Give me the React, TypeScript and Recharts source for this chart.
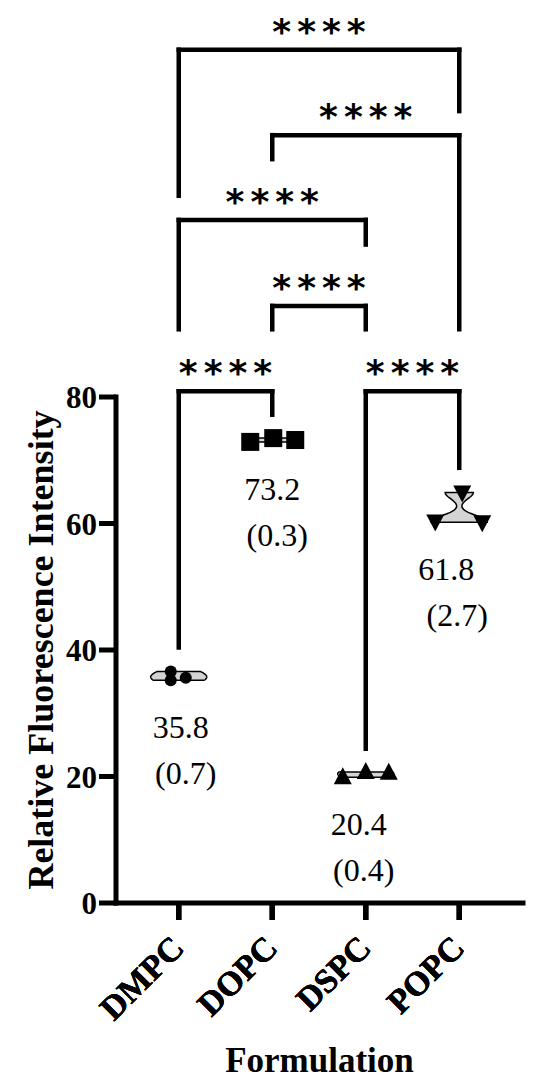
import React from "react";
import {
  ComposedChart,
  ReferenceArea,
  ReferenceLine,
  Scatter,
  XAxis,
  YAxis,
} from "recharts";

const CATEGORIES = ["DMPC", "DOPC", "DSPC", "POPC"];
const DMPC_VALUES = [36.6, 35.2, 35.6];
const DOPC_VALUES = [72.9, 73.5, 73.2];
const DSPC_VALUES = [19.9, 20.7, 20.6];
const POPC_VALUES = [64.9, 60.3, 60.2];
const MEANS = [35.8, 73.2, 20.4, 61.8];
const SDS = [0.7, 0.3, 0.4, 2.7];
const Y_TICKS = [0, 20, 40, 60, 80];

// multiple comparisons: group A, group B, bracket height, leg end A, leg end B
const COMPARISONS: [string, string, number, number, number][] = [
  ["DMPC", "DOPC", 80.9, 40.4, 77.2],
  ["DSPC", "POPC", 80.9, 24.4, 68.8],
  ["DOPC", "DSPC", 94.4, 90.7, 90.7],
  ["DMPC", "DSPC", 108.0, 90.7, 104.1],
  ["DOPC", "POPC", 121.4, 117.6, 90.7],
  ["DMPC", "POPC", 134.9, 111.8, 125.2],
];
const P_LABEL = "****";

const GROUPS = [DMPC_VALUES, DOPC_VALUES, DSPC_VALUES, POPC_VALUES];
const MARKERS = ["circle", "square", "triangle", "down"];

const INK = "#000";
const SERIF = "'Liberation Serif', 'Times New Roman', serif";

// horizontal spread of replicate points inside each violin (px)
const JITTER: Record<string, number[]> = {
  DMPC: [-8, -8, 7],
  DOPC: [-22, 1, 23],
  DSPC: [-23, 0, 23],
  POPC: [3, -24, 23],
};
const LABEL_DX: Record<string, [number, number]> = {
  DMPC: [2, 7],
  DOPC: [0, 5],
  DSPC: [-7, -2],
  POPC: [-13, -2],
};

function Marker(props: any) {
  const { cx, cy, payload, kind } = props;
  if (cx == null || cy == null) return null;
  const x = cx + JITTER[payload.name][payload.rep];
  if (kind === "circle") return <circle cx={x} cy={cy} r={6} fill={INK} />;
  if (kind === "square")
    return <rect x={x - 9} y={cy - 9} width={18} height={18} fill={INK} />;
  if (kind === "triangle")
    return (
      <polygon
        points={`${x},${cy - 10} ${x + 9},${cy + 7} ${x - 9},${cy + 7}`}
        fill={INK}
      />
    );
  return (
    <polygon
      points={`${x - 9},${cy - 7} ${x + 9},${cy - 7} ${x},${cy + 10}`}
      fill={INK}
    />
  );
}

// kernel density outline, truncated at the data range
function violinShape(values: number[]) {
  return (props: any) => {
    const { x, y, width, height } = props;
    const lo = Math.min(...values);
    const hi = Math.max(...values);
    const steps = 30;
    const dens: number[] = [];
    for (let i = 0; i <= steps; i++) {
      const v = hi - ((hi - lo) * i) / steps;
      dens.push(values.reduce((s, d) => s + Math.exp(-0.5 * (v - d) ** 2), 0));
    }
    const maxD = Math.max(...dens);
    const cx = x + width / 2;
    const right = dens.map((d, i) => `${cx + (28 * d) / maxD},${y + (height * i) / steps}`);
    const left = dens
      .map((d, i) => `${cx - (28 * d) / maxD},${y + (height * i) / steps}`)
      .reverse();
    return (
      <polygon
        points={[...right, ...left].join(" ")}
        fill="#d4d4d4"
        stroke={INK}
        strokeWidth={1.5}
      />
    );
  };
}

function SummaryLabel(props: any) {
  const { cx, cy, payload } = props;
  if (cx == null || cy == null) return null;
  const [dx1, dx2] = LABEL_DX[payload.name];
  return (
    <g fontSize={32} fill={INK} textAnchor="middle">
      <text x={cx + dx1} y={cy + 58}>
        {payload.mean.toFixed(1)}
      </text>
      <text x={cx + dx2} y={cy + 104}>
        ({payload.sd.toFixed(1)})
      </text>
    </g>
  );
}

function XTick(props: any) {
  const { x, y, payload } = props;
  const ax = x + 7;
  const ay = y + 28;
  return (
    <text
      x={ax}
      y={ay}
      transform={`rotate(-45, ${ax}, ${ay})`}
      textAnchor="end"
      fontSize={34}
      fontWeight="bold"
      fill={INK}
    >
      {payload.value}
    </text>
  );
}

export default function App() {
  const summary = CATEGORIES.map((name, g) => ({
    name,
    low: Math.min(...GROUPS[g]),
    mean: MEANS[g],
    sd: SDS[g],
  }));

  return (
    <div
      style={{
        position: "absolute",
        left: 0,
        top: 0,
        width: 550,
        height: 1092,
        background: "#fff",
        fontFamily: SERIF,
      }}
    >
      <ComposedChart
        width={550}
        height={1092}
        data={summary}
        margin={{ top: 397, right: 27, bottom: 0, left: 0 }}
      >
        <XAxis
          dataKey="name"
          type="category"
          scale="band"
          allowDuplicatedCategory={false}
          interval={0}
          padding={{ left: 16, right: 17 }}
          height={189}
          tickSize={17}
          tickMargin={2}
          axisLine={{ stroke: INK, strokeWidth: 5, strokeLinecap: "square" }}
          tickLine={{ stroke: INK, strokeWidth: 5 }}
          tick={<XTick />}
          label={{
            value: "Formulation",
            position: "insideBottom",
            offset: 20,
            fontSize: 35,
            fontWeight: "bold",
            fill: INK,
          }}
        />
        <YAxis
          type="number"
          domain={[0, 80]}
          ticks={Y_TICKS}
          width={116}
          tickSize={17}
          tickMargin={2}
          axisLine={{ stroke: INK, strokeWidth: 5, strokeLinecap: "square" }}
          tickLine={{ stroke: INK, strokeWidth: 5 }}
          tick={{ fill: INK, fontSize: 31, fontWeight: "bold" }}
          label={{
            value: "Relative Fluorescence Intensity",
            angle: -90,
            position: "insideLeft",
            offset: 40,
            fontSize: 36,
            fontWeight: "bold",
            fill: INK,
            style: { textAnchor: "middle" },
          }}
        />

        {CATEGORIES.map((name, g) => (
          <ReferenceArea
            key={`v-${name}`}
            x1={name}
            x2={name}
            y1={Math.min(...GROUPS[g])}
            y2={Math.max(...GROUPS[g])}
            shape={violinShape(GROUPS[g])}
          />
        ))}

        {CATEGORIES.map((name, g) => (
          <Scatter
            key={`s-${name}`}
            data={GROUPS[g].map((value, rep) => ({ name, value, rep }))}
            dataKey="value"
            isAnimationActive={false}
            shape={(p: any) => <Marker {...p} kind={MARKERS[g]} />}
          />
        ))}

        <Scatter
          data={summary}
          dataKey="low"
          isAnimationActive={false}
          shape={(p: any) => <SummaryLabel {...p} />}
        />

        {COMPARISONS.map(([a, b, top, endA, endB], i) => (
          <React.Fragment key={`c-${i}`}>
            <ReferenceLine
              segment={[{ x: a, y: endA }, { x: a, y: top }]}
              stroke={INK}
              strokeWidth={4.5}
              strokeLinecap="square"
              ifOverflow="visible"
            />
            <ReferenceLine
              segment={[{ x: b, y: endB }, { x: b, y: top }]}
              stroke={INK}
              strokeWidth={4.5}
              strokeLinecap="square"
              ifOverflow="visible"
            />
            <ReferenceLine
              segment={[{ x: a, y: top }, { x: b, y: top }]}
              stroke={INK}
              strokeWidth={4.5}
              strokeLinecap="square"
              ifOverflow="visible"
              label={{
                value: P_LABEL,
                position: "top",
                offset: 6,
                dx: 3,
                fontSize: 36,
                fontWeight: "bold",
                letterSpacing: 6,
                fontFamily: "'DejaVu Sans', sans-serif",
                fill: INK,
              }}
            />
          </React.Fragment>
        ))}
      </ComposedChart>
    </div>
  );
}
